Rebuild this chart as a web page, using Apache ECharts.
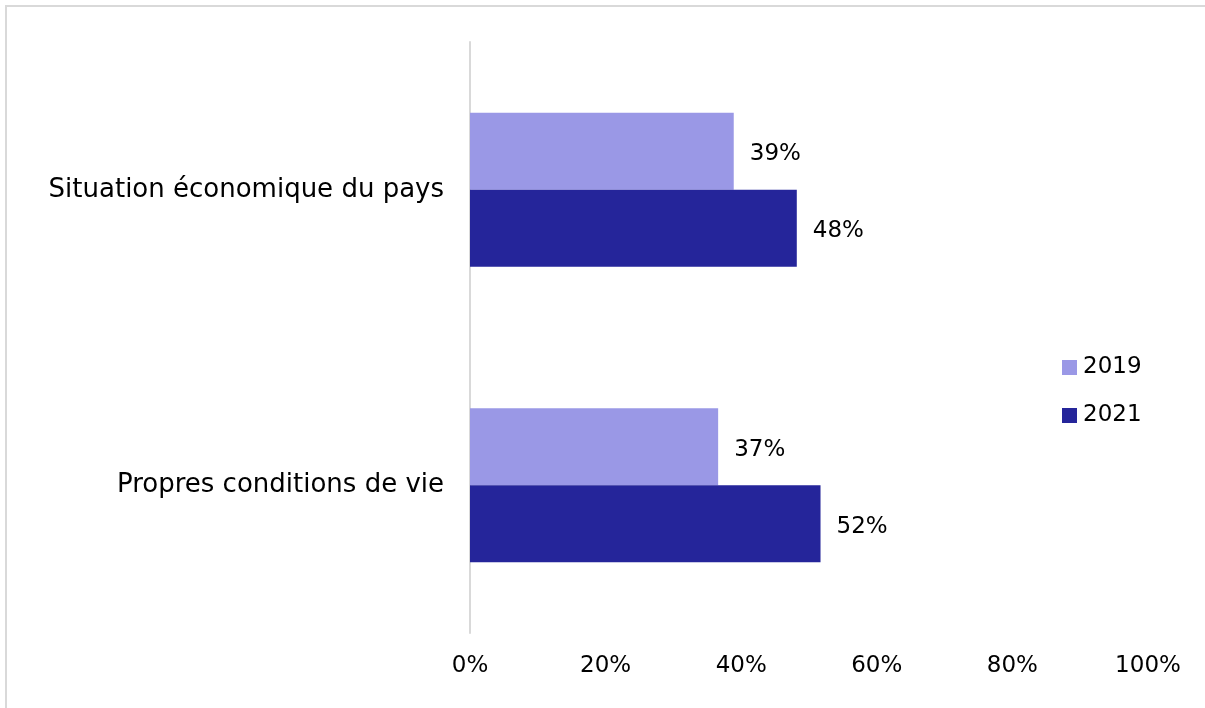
<!DOCTYPE html>
<html><head><meta charset="utf-8">
<script src="https://cdn.jsdelivr.net/npm/echarts@6/dist/echarts.min.js"></script>
<style>html,body{margin:0;padding:0;background:#fff}#c{width:1205px;height:708px}</style>
</head><body><div id="c"></div>
<script>
const categories = ["Situation économique du pays", "Propres conditions de vie"];
const seriesNames = ["2019", "2021"];
const values2019 = [38.9, 36.6];
const values2021 = [48.2, 51.7];
const xTicks = [0, 20, 40, 60, 80, 100];

const FONT = "DejaVu Sans";
const chart = echarts.init(document.getElementById('c'));
const lbl = {show:true, position:'right', distance:16, fontSize:23, color:'#000', fontFamily:FONT,
  offset:[0,3], formatter: p => Math.round(p.value) + '%'};
chart.setOption({
  animation:false,
  textStyle:{fontFamily:FONT},
  graphic:[{type:'rect', shape:{x:6,y:6,width:1220,height:720}, style:{fill:'none', stroke:'#d9d9d9', lineWidth:2}, silent:true}],
  grid:{left:470, right:57, top:42, bottom:75, containLabel:false},
  legend:{orient:'vertical', left:1057, top:351, itemWidth:15, itemHeight:15, itemGap:25,
    data:seriesNames, icon:'rect', textStyle:{fontSize:23, color:'#000', fontFamily:FONT, padding:[0,0,0,1]}},
  xAxis:{type:'value', min:0, max:100, interval:20,
    axisLine:{show:false}, axisTick:{show:false}, splitLine:{show:false},
    axisLabel:{fontSize:23, color:'#000', margin:22, formatter: v => xTicks.includes(v) ? v + '%' : ''}},
  yAxis:{type:'category', data:categories, inverse:true,
    axisLine:{show:true, lineStyle:{color:'#d9d9d9', width:2}}, axisTick:{show:false},
    axisLabel:{fontSize:26, color:'#000', margin:26, padding:[4,0,0,0]}},
  series:[
    {name:seriesNames[0], type:'bar', data:values2019, barWidth:77, barGap:'0%', itemStyle:{color:'#9a98e6'}, label:lbl},
    {name:seriesNames[1], type:'bar', data:values2021, barWidth:77, barGap:'0%', itemStyle:{color:'#25259a'}, label:lbl}
  ]
});
</script></body></html>
